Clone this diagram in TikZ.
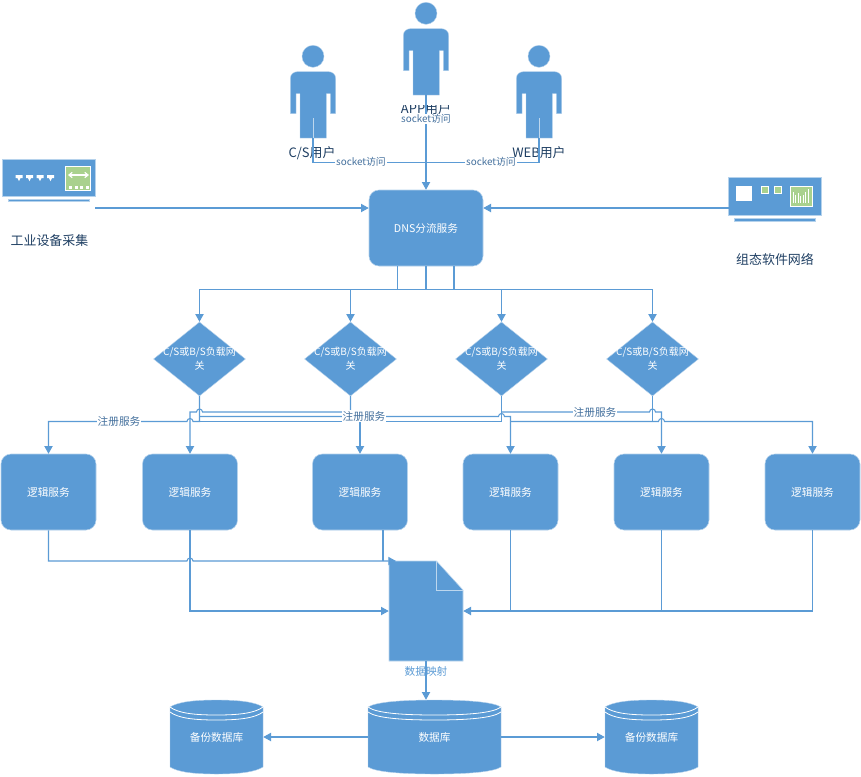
\documentclass[tikz,border=0pt]{standalone}
\usepackage{fontspec}
\setmainfont{Noto Sans CJK SC}
\usetikzlibrary{arrows.meta,shapes.geometric,calc}
\definecolor{bl}{HTML}{5B9BD5}
\definecolor{edge}{HTML}{B5D2EC}
\definecolor{paleline}{HTML}{BDD7EE}
\definecolor{ink}{HTML}{1F3F63}
\definecolor{labelink}{HTML}{44709D}
\definecolor{gr}{HTML}{A9D18E}
\tikzset{
  x=0.75pt,y=-0.75pt,
  link/.style={draw=bl,line width=0.8pt},
  arr/.style={link,-{Triangle[length=5.8pt,width=6.2pt]}},
  service/.style={draw=edge,line width=0.4pt,fill=bl,rounded corners=7.5pt,minimum width=71.25pt,minimum height=57pt,inner sep=0pt,text=white,font=\fontsize{8}{10}\selectfont},
  gate/.style={diamond,draw=edge,line width=0.3pt,fill=bl,minimum width=69pt,minimum height=55.5pt,inner sep=0pt},
  gatetext/.style={text=white,font=\fontsize{7.5}{10.5}\selectfont,align=center,inner sep=0pt},
  anchorbox/.style={inner sep=0pt,text=white,font=\fontsize{8}{10}\selectfont},
  caption/.style={text=ink,inner sep=0pt,font=\fontsize{9.7}{11}\selectfont},
  onlink/.style={fill=white,text=labelink,inner sep=0.5pt,font=\fontsize{8}{10}\selectfont},
  onsock/.style={onlink,font=\fontsize{7.4}{10}\selectfont},
}
% person figure centred on x, with vertical offset y
\newcommand{\personfig}[2]{%
  \fill[bl,draw=edge,line width=0.3pt] (#1,13.3+#2) circle[radius=11];
  \fill[bl,draw=edge,line width=0.3pt] (#1-22.7,70.7+#2) -- (#1-22.7,35.7+#2)
    .. controls (#1-22.7,31+#2) and (#1-19,28.7+#2) .. (#1-15.7,28.7+#2)
    -- (#1+15.7,28.7+#2)
    .. controls (#1+19,28.7+#2) and (#1+22.7,31+#2) .. (#1+22.7,35.7+#2)
    -- (#1+22.7,70.7+#2) -- (#1+17.3,70.7+#2) -- (#1+17.3,50.7+#2) -- (#1+13.3,50.7+#2)
    -- (#1+13.3,95+#2) -- (#1-13,95+#2) -- (#1-13,50.7+#2) -- (#1-17,50.7+#2)
    -- (#1-17,70.7+#2) -- cycle;
}
% database cylinder body, x from #1 to #2
\newcommand{\dbfig}[2]{%
  \fill[bl,draw=edge,line width=0.3pt] (#1,707) .. controls (#1+8,702) and ($(#1,700)!0.25!(#2,700)$) .. ($(#1,700)!0.5!(#2,700)$)
     .. controls ($(#1,700)!0.75!(#2,700)$) and (#2-8,702) .. (#2,707)
     -- (#2,767) .. controls (#2-8,772) and ($(#1,774)!0.75!(#2,774)$) .. ($(#1,774)!0.5!(#2,774)$)
     .. controls ($(#1,774)!0.25!(#2,774)$) and (#1+8,772) .. (#1,767) -- cycle;
  \draw[white,line width=0.6pt] (#1,707) .. controls (#1+8,713) and ($(#1,715)!0.25!(#2,715)$) .. ($(#1,715)!0.5!(#2,715)$)
     .. controls ($(#1,715)!0.75!(#2,715)$) and (#2-8,713) .. (#2,707);
  \draw[white,line width=0.6pt] (#1,712) .. controls (#1+8,718) and ($(#1,720)!0.25!(#2,720)$) .. ($(#1,720)!0.5!(#2,720)$)
     .. controls ($(#1,720)!0.75!(#2,720)$) and (#2-8,718) .. (#2,712);
}
\begin{document}
\begin{tikzpicture}
\useasboundingbox (0,0) rectangle (861,776);
\fill[white] (0,0) rectangle (861,776);

% ---------- people
\begin{scope}
  \clip (380,105) rectangle (470,114);
  \node[caption] (lblApp) at (426,109) {APP用户};
\end{scope}
\personfig{426}{0}
\personfig{313}{43}
\personfig{539}{43}
\node[caption] (lblCs) at (312,153) {C/S用户};
\node[caption] (lblWeb) at (539,153) {WEB用户};
\coordinate (appFoot) at (426,75);
\coordinate (csFoot) at (313,118);
\coordinate (webFoot) at (539,118);

% ---------- devices
\fill[bl,draw=edge,line width=0.4pt] (2,159.5) rectangle (95.5,196.5);
\fill[bl,draw=edge,line width=0.3pt] (8,199) rectangle (89,201.5);
\fill[gr,draw=white,line width=0.6pt] (65.5,166) rectangle (90.5,190);
\draw[white,line width=0.9pt,{Straight Barb[length=2.5pt,width=4pt]}-{Straight Barb[length=2.5pt,width=4pt]}] (68,175) -- (89,175);
\foreach \xx in {69,74.5,80,85.5} \fill[white] (\xx,185.5) rectangle (\xx+3,188.5);
\foreach \xx in {15.5,26,36.5,47}
  \fill[white] (\xx,175) -- (\xx+7,175) -- (\xx+7,178) -- (\xx+5,178) -- (\xx+3.5,181) -- (\xx+2,178) -- (\xx,178) -- cycle;
\node[caption] (lblPlc) at (49.5,241) {工业设备采集};

\fill[bl,draw=edge,line width=0.4pt] (728,177.5) rectangle (821.5,215);
\fill[bl,draw=edge,line width=0.3pt] (734,218.5) rectangle (815.5,221);
\fill[white] (736,186) rectangle (752,200.5);
\fill[gr,draw=white,line width=0.6pt] (761.5,186.5) rectangle (768,193);
\fill[gr,draw=white,line width=0.6pt] (774.5,186.5) rectangle (781,193);
\fill[gr,draw=white,line width=0.6pt] (790.5,186.5) rectangle (812,206);
\foreach \xx/\yy in {793/192,795.5/195,798/193,800.5/196,803/195,805.5/192,808/189}
  \draw[white,line width=0.5pt] (\xx,\yy) -- (\xx,203);
\node[caption] (lblScada) at (775,260) {组态软件网络};

% ---------- main nodes
\node[service] (dns) at (426,228) [minimum width=85.5pt] {DNS分流服务};
\node[gate,label={[gatetext]center:{C/S或B/S负载网\\关}}] (d1) at (199.5,359) {};
\node[gate,label={[gatetext]center:{C/S或B/S负载网\\关}}] (d2) at (350.5,359) {};
\node[gate,label={[gatetext]center:{C/S或B/S负载网\\关}}] (d3) at (501.5,359) {};
\node[gate,label={[gatetext]center:{C/S或B/S负载网\\关}}] (d4) at (652.5,359) {};
\node[service] (s1) at (48.5,492) {逻辑服务};
\node[service] (s2) at (190,492) {逻辑服务};
\node[service] (s3) at (360,492) {逻辑服务};
\node[service] (s4) at (510.5,492) {逻辑服务};
\node[service] (s5) at (661.5,492) {逻辑服务};
\node[service] (s6) at (812.5,492) {逻辑服务};

% document
\fill[bl,draw=paleline,line width=0.4pt] (389,561) -- (436.5,561) -- (463,590) -- (463,661) -- (389,661) -- cycle;
\draw[paleline,line width=0.75pt] (436.5,561) -- (436.5,590) -- (463,590);
\node[anchorbox,minimum width=55.5pt,minimum height=75pt] (doc) at (426,611) {};

% databases
\dbfig{368}{501}
\dbfig{170}{263}
\dbfig{605}{698}
\node[anchorbox,minimum width=99.75pt,minimum height=55.5pt] (db) at (434.5,737) {数据库};
\node[anchorbox,minimum width=69.75pt,minimum height=55.5pt] (bk1) at (216.5,737) {备份数据库};
\node[anchorbox,minimum width=69.75pt,minimum height=55.5pt] (bk2) at (651.5,737) {备份数据库};

% ---------- connectors: users to DNS
\coordinate (userBus) at (426,162.5);
\draw[link] (csFoot) |- (userBus);
\draw[link] (webFoot) |- (userBus);
\draw[paleline,line width=0.75pt] (csFoot) -- ++(0,20);
\draw[paleline,line width=0.75pt] (webFoot) -- ++(0,20);
\draw[arr] (appFoot) -- (appFoot |- dns.north);

% devices to DNS
\coordinate (plcOut) at (95,208);
\coordinate (scadaOut) at (729,208);
\draw[arr] (plcOut) -- (plcOut -| dns.west);
\draw[arr] (scadaOut) -- (scadaOut -| dns.east);

% DNS to gateways
\coordinate (tap1) at (397.5,289.5);
\coordinate (tap2) at (426,289.5);
\coordinate (tap3) at (454,289.5);
\draw[link] (tap1 |- dns.south) -- (tap1);
\draw[link] (tap2 |- dns.south) -- (tap2);
\draw[link] (tap3 |- dns.south) -- (tap3);
\draw[link] (tap1) -- (tap3);
\draw[arr] (tap1) -| (d1.north);
\draw[arr] (tap1) -| (d2.north);
\draw[arr] (tap3) -| (d3.north);
\draw[arr] (tap3) -| (d4.north);

% gateways to services
\coordinate (busLow) at (0,421.5);
\coordinate (busMid) at (0,416.5);
\coordinate (busTop) at (0,412);
\draw[arr] (d1.south) |- (193,421.5) arc[start angle=0,end angle=-180,radius=3] -| (s1.north);
\draw[arr] (d2.south) |- (202.5,412) arc[start angle=0,end angle=-180,radius=3] -| (s2.north);
\draw[link] (d3.south) |- (d1.south |- busLow);
\draw[arr] (d1.south |- busLow) -| (s3.north);
\draw[arr] (d1.south |- busMid) -- (498.5,416.5) arc[start angle=180,end angle=360,radius=3] -| (s4.north);
\draw[arr] (d3.south |- busTop) -- (649.5,412) arc[start angle=180,end angle=360,radius=3] -| (s5.north);
\draw[link] (d4.south) -- (d4.south |- busLow);
\draw[arr] (s4.north |- busLow) -- (658.5,421.5) arc[start angle=180,end angle=360,radius=3] -| (s6.north);

% services to document
\coordinate (docIn) at (396,561);
\coordinate (s3out) at (383,530);
\draw[arr] (s1.south) |- (187,561) arc[start angle=180,end angle=360,radius=3] -- (docIn);
\draw[link] (s3out) -- (s3out |- docIn);
\draw[arr] (s2.south) |- (doc.west);
\draw[arr] (s6.south) |- (doc.east);
\draw[link] (s5.south) -- (s5.south |- doc.east);
\draw[link] (s4.south) -- (s4.south |- doc.east);

% document and databases
\draw[arr] (doc.south) -- (doc.south |- db.north);
\draw[arr] (db.west) -- (bk1.east);
\draw[arr] (db.east) -- (bk2.west);

% ---------- labels on connectors
\node[onsock] (lblSockApp) at (426,119) {socket访问};
\node[onsock] (lblSockCs) at (361,162) {socket访问};
\node[onsock] (lblSockWeb) at (491,162) {socket访问};
\node[onlink] (lblReg1) at (119,421) {注册服务};
\node[onlink] (lblReg2) at (364,416) {注册服务};
\node[onlink] (lblReg3) at (595,412) {注册服务};
\node[text=bl,inner sep=0pt,font=\fontsize{8}{10}\selectfont] (lblMap) at (426,671) {数据映射};
\end{tikzpicture}
\end{document}
